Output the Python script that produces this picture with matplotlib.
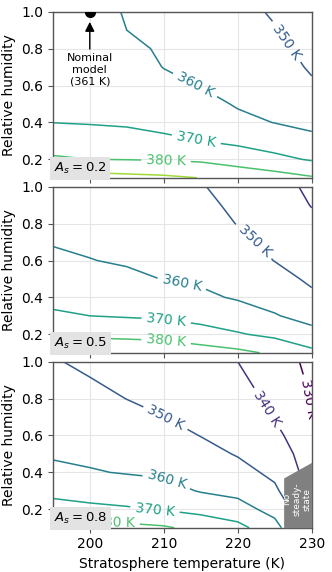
import numpy as np
import matplotlib
matplotlib.use("Agg")
import matplotlib.pyplot as plt

# grid of the model runs
strat_temp = [195, 200, 205, 210, 215, 220, 225, 230]
rel_hum = [0.1, 0.2, 0.3, 0.4, 0.5, 0.6, 0.7, 0.8, 0.9, 1.0]
albedos = [0.2, 0.5, 0.8]

# surface temperature (K), rows = relative humidity, columns = stratosphere temperature
tsurf_02 = [
    [394.7, 393.7, 392.7, 391.7, 389.8, 386.0, 384.1, 380.9],
    [381.3, 380.0, 379.7, 379.2, 378.3, 376.0, 372.4, 369.1],
    [375.1, 373.9, 373.0, 371.5, 370.0, 367.8, 365.3, 362.3],
    [369.9, 369.5, 369.0, 367.8, 366.4, 362.2, 359.8, 357.8],
    [368.3, 368.1, 367.2, 365.0, 362.9, 359.2, 357.9, 354.5],
    [366.9, 366.7, 365.4, 362.2, 359.7, 357.7, 356.0, 351.2],
    [365.6, 365.3, 363.6, 359.8, 358.5, 356.3, 354.2, 348.9],
    [364.5, 363.8, 361.8, 359.0, 357.2, 354.9, 352.3, 347.3],
    [363.2, 362.4, 360.0, 358.1, 356.0, 353.5, 350.4, 345.6],
    [362.0, 361.0, 359.8, 357.2, 354.7, 352.1, 349.2, 344.0],
]
tsurf_05 = [
    [391.1, 389.3, 388.5, 387.2, 384.7, 382.3, 378.4, 372.3],
    [378.1, 377.6, 377.0, 376.4, 373.8, 370.8, 367.8, 363.1],
    [371.3, 370.0, 369.3, 368.6, 366.7, 364.2, 360.6, 356.7],
    [367.6, 366.7, 365.5, 364.1, 361.5, 359.2, 356.7, 351.7],
    [364.6, 363.4, 361.6, 359.8, 358.8, 356.8, 353.2, 348.5],
    [361.6, 360.2, 359.2, 358.3, 357.2, 354.4, 349.8, 346.3],
    [359.5, 358.8, 357.9, 356.8, 355.5, 352.0, 348.1, 344.0],
    [358.3, 357.5, 356.5, 355.3, 353.9, 349.7, 346.3, 341.8],
    [357.2, 356.3, 355.2, 353.8, 352.2, 348.2, 344.6, 339.7],
    [356.0, 355.0, 353.8, 352.3, 350.6, 346.7, 342.8, 338.5],
]
tsurf_08 = [
    [384.8, 383.0, 382.9, 381.2, 377.0, 372.9, 363.5, 344.0],
    [374.1, 372.2, 371.0, 369.4, 367.0, 363.8, 356.7, 341.0],
    [367.1, 365.8, 364.7, 363.2, 359.4, 357.4, 351.6, 338.0],
    [362.1, 360.6, 359.5, 358.6, 356.2, 353.0, 348.0, 336.0],
    [359.0, 358.3, 357.1, 355.8, 352.9, 349.4, 345.1, 335.0],
    [357.3, 356.3, 354.7, 353.0, 349.8, 347.5, 342.2, 333.3],
    [355.6, 354.3, 352.3, 350.1, 347.9, 345.6, 339.5, 330.0],
    [353.9, 352.3, 349.9, 348.1, 345.9, 343.8, 337.7, 329.3],
    [352.3, 350.3, 348.1, 346.2, 344.0, 341.9, 335.8, 328.7],
    [350.6, 348.5, 346.4, 344.2, 342.1, 340.0, 334.0, 328.0],
]

# region without a steady state (A_s = 0.8 only)
nss_temp = [226.2, 230.0]
nss_rh_top = [0.37, 0.455]

# nominal model
nominal_temp = 200
nominal_rh = 1.0
nominal_tsurf = 361

levels = np.arange(330, 401, 10)

# where the inline labels sit, one list per panel
label_pos = [
    [(226.0, 0.82), (214.2, 0.60), (214.4, 0.31), (210.3, 0.19)],
    [(222.0, 0.695), (212.4, 0.466), (210.3, 0.268), (210.3, 0.16)],
    [(229.6, 0.80), (223.8, 0.74), (210.3, 0.70), (210.3, 0.35), (208.8, 0.196), (203.4, 0.13)],
]

fig, axes = plt.subplots(3, 1, figsize=(3.32, 5.72), dpi=100, sharex=True)
fig.subplots_adjust(left=0.159, right=0.939, top=0.9795, bottom=0.0774, hspace=0.054)

X, Y = np.meshgrid(strat_temp, rel_hum)
for ax, a_s, field, pos in zip(axes, albedos, [tsurf_02, tsurf_05, tsurf_08], label_pos):
    cs = ax.contour(X, Y, np.array(field), levels=levels, cmap='viridis',
                    vmin=330, vmax=400, linewidths=1.1)
    ax.clabel(cs, fmt='%d K', fontsize=10, inline=True, manual=pos)
    ax.set_xlim(195, 230)
    ax.set_ylim(0.1, 1.0)
    ax.set_yticks([0.2, 0.4, 0.6, 0.8, 1.0])
    ax.set_xticks([200, 210, 220, 230])
    ax.grid(True, color='#e5e5e5', lw=0.8)
    ax.set_axisbelow(True)
    for sp in ax.spines.values():
        sp.set_color('#555555')
        sp.set_linewidth(1.0)
    ax.tick_params(labelsize=10, color='#555555')
    ax.set_ylabel('Relative humidity', fontsize=10)
    ax.text(0.005, 0.012, r'$A_s = %.1f$' % a_s, transform=ax.transAxes, fontsize=9.5,
            ha='left', va='bottom', zorder=20,
            bbox=dict(facecolor='#e3e3e3', edgecolor='none', boxstyle='square,pad=0.3'))

# nominal model marker
ax0 = axes[0]
ax0.plot(nominal_temp, nominal_rh, 'o', color='k', ms=7, zorder=15)
ax0.annotate('Nominal\nmodel\n(%d K)' % nominal_tsurf, xy=(nominal_temp, 0.945),
             xytext=(nominal_temp, 0.685), ha='center', va='center', fontsize=8,
             arrowprops=dict(arrowstyle='-|>', color='k', lw=1.0, mutation_scale=14,
                             shrinkA=1, shrinkB=0))

# no steady state patch
ax2 = axes[2]
ax2.fill_between(nss_temp, 0.1, nss_rh_top, color='#808080', lw=0, zorder=12)
ax2.text(227.95, 0.255, 'No\nsteady-\nstate', rotation=90, color='white', fontsize=6.5,
         ha='center', va='center', multialignment='center', zorder=13)

axes[2].set_xlabel('Stratosphere temperature (K)', fontsize=10)

plt.savefig('out.png', dpi=100)
